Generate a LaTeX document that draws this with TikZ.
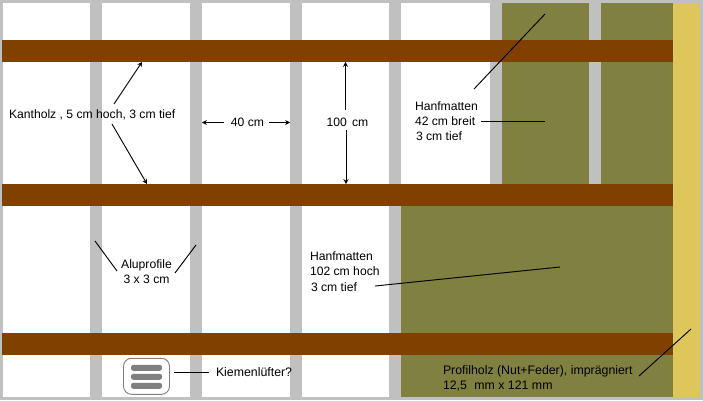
\documentclass[tikz,border=0pt]{standalone}
\usepackage{fontspec}
\setmainfont{Liberation Sans}
\definecolor{frameG}{HTML}{C0C0C0}
\definecolor{beamB}{HTML}{804000}
\definecolor{matG}{HTML}{808040}
\definecolor{woodY}{HTML}{DDC65A}
\definecolor{ventG}{HTML}{808080}
\tikzset{
  stud/.style={fill=frameG,draw=none},
  beam/.style={fill=beamB,draw=none},
  mat/.style={fill=matG,draw=none},
  wood/.style={fill=woodY,draw=none},
  lbl/.style={font=\fontsize{9.12}{11.4}\selectfont,text=black,inner sep=0pt,outer sep=0pt,align=left},
  lblw/.style={lbl,font=\fontsize{9.25}{11.4}\selectfont},
  lblc/.style={lbl,align=center},
  leader/.style={draw=black,line width=0.7pt},
  dimline/.style={leader,-{Stealth[length=3.6pt,width=3.8pt]}},
  ventbox/.style={draw=ventG,fill=white,line width=0.7pt,rounded corners=6pt,minimum width=34.5pt,minimum height=27pt,inner sep=0pt},
  ventbar/.style={fill=ventG,draw=none,rounded corners=1.8pt},
}
\usetikzlibrary{arrows.meta}
\begin{document}
\begin{tikzpicture}[x=0.75pt,y=-0.75pt]
\useasboundingbox (0,0) rectangle (703,400);
% background frame and panel
\fill[frameG] (0,0) rectangle (703,400);
\fill[white] (3,3) rectangle (673,397);
% studs
\foreach \x in {90,190,290,389,490,589}
  \path[stud] (\x,3) rectangle (\x+12,397);
% insulation
\path[mat] (502,3) rectangle (589,206);
\path[mat] (601,3) rectangle (673,206);
\path[mat] (401,206) rectangle (673,397);
% profile wood
\path[wood] (673,3) rectangle (700,397);
% beams
\path[beam] (2,40) rectangle (673,62);
\path[beam] (2,184) rectangle (673,206);
\path[beam] (2,333) rectangle (673,355);
% vent
\node[ventbox] (vent) at (146.5,376.3) {};
\path[ventbar] (131,364.8) rectangle (162,370.8);
\path[ventbar] (131,373.8) rectangle (162,379.8);
\path[ventbar] (131,382.8) rectangle (162,388.8);
% labels
\node[lbl,anchor=west] (kant) at (9,115) {Kantholz , 5 cm hoch, 3 cm tief};
\node[lbl] (vierzig) at (247.5,122) {40 cm};
\node[lbl,anchor=west] (hundert) at (326.5,122.5) {100\hspace{4pt}cm};
\node[lbl,anchor=west] (hanfa) at (415,121) {Hanfmatten\\42 cm breit\\\hspace{0.75pt}3 cm tief};
\node[lbl,anchor=west] (hanfb) at (310,271.5) {Hanfmatten\\102 cm hoch\\\hspace{0.75pt}3 cm tief};
\node[lblc] (alu) at (146.5,272) {Aluprofile\\3 x 3 cm};
\node[lblw,anchor=west] (kiem) at (216,372.5) {Kiemenlüfter?};
\node[lblw,anchor=west] (prof) at (443,378.5) {Profilholz (Nut+Feder), imprägniert\\12,5\hspace{3pt} mm x 121 mm};
% connector ends
\coordinate (k1) at (114,104); \coordinate (k1e) at (142,62);
\coordinate (k2) at (112,124); \coordinate (k2e) at (147,184);
\coordinate (v1) at (224,122.5); \coordinate (v1e) at (202,122.5);
\coordinate (v2) at (269,122.5); \coordinate (v2e) at (290,122.5);
\coordinate (h1) at (345.5,110); \coordinate (h1e) at (345.5,62);
\coordinate (h2) at (346,130); \coordinate (h2e) at (346,184);
\coordinate (a1) at (474,89); \coordinate (a1e) at (545,14);
\coordinate (a2) at (481,121.5); \coordinate (a2e) at (545,121.5);
\coordinate (b1) at (375,286); \coordinate (b1e) at (560,267);
\coordinate (l1) at (117,271); \coordinate (l1e) at (95,241);
\coordinate (l2) at (175,273); \coordinate (l2e) at (196,245);
\coordinate (g1) at (174,372); \coordinate (g1e) at (209,372);
\coordinate (p1) at (639,376); \coordinate (p1e) at (691,329);
% connectors
\draw[dimline] (k1) -- (k1e);
\draw[dimline] (k2) -- (k2e);
\draw[dimline] (v1) -- (v1e);
\draw[dimline] (v2) -- (v2e);
\draw[dimline] (h1) -- (h1e);
\draw[dimline] (h2) -- (h2e);
\draw[leader] (a1) -- (a1e);
\draw[leader] (a2) -- (a2e);
\draw[leader] (b1) -- (b1e);
\draw[leader] (l1) -- (l1e);
\draw[leader] (l2) -- (l2e);
\draw[leader] (g1) -- (g1e);
\draw[leader] (p1) -- (p1e);
\end{tikzpicture}
\end{document}
